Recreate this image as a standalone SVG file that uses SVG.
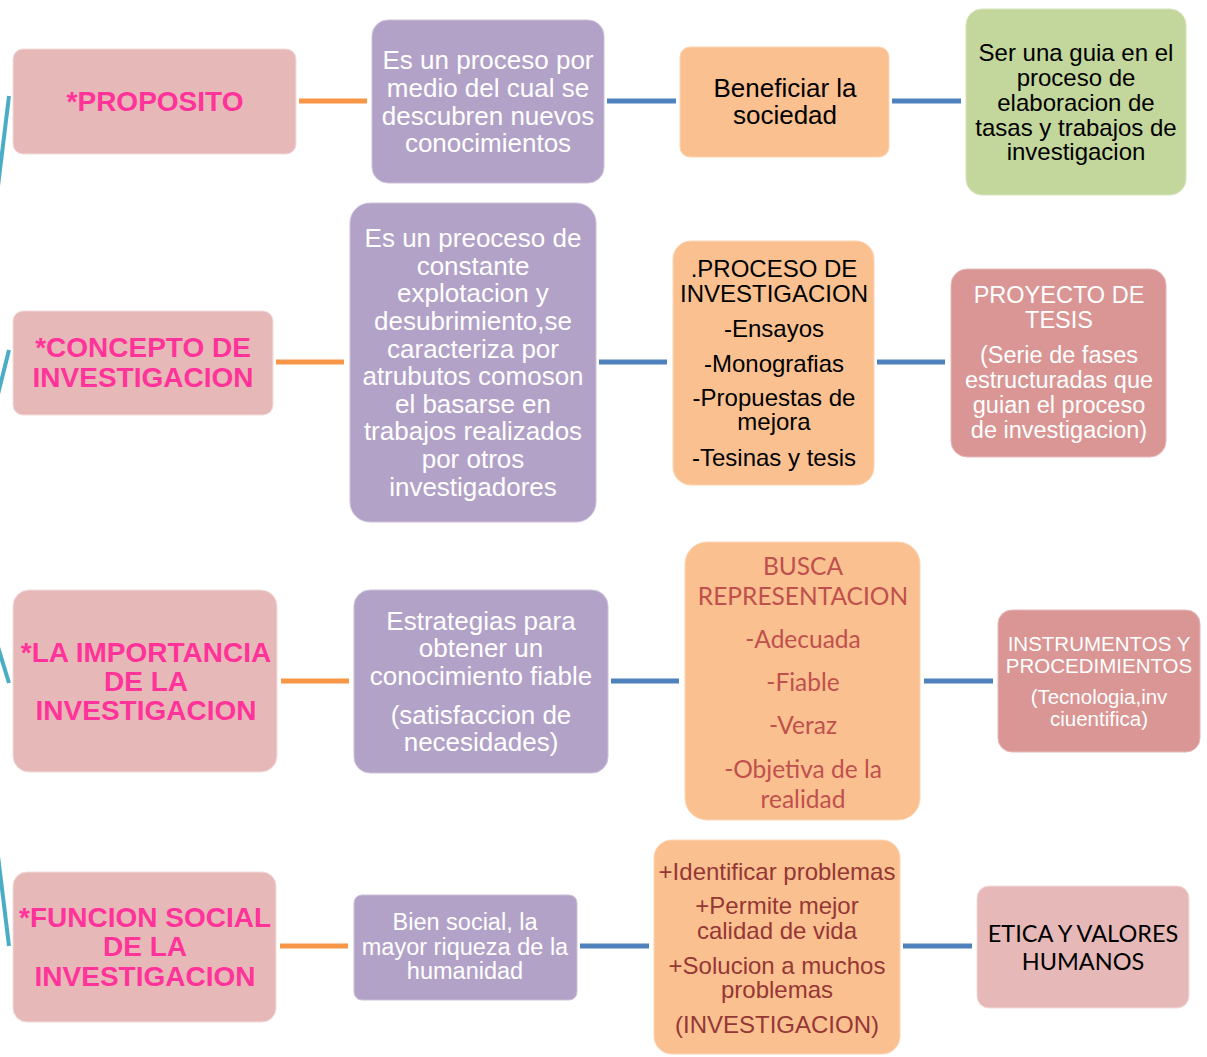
<svg xmlns="http://www.w3.org/2000/svg" width="1207" height="1057" viewBox="0 0 1207 1057">
<style>
.pk{fill:#E6B9B8;stroke:#F2DCDB;stroke-width:1}
.pu{fill:#B3A2C7;stroke:#CCC1DA;stroke-width:1}
.or{fill:#FAC090;stroke:#FCD5B5;stroke-width:1}
.gr{fill:#C3D69B;stroke:#D7E4BD;stroke-width:1}
.rd{fill:#D99694;stroke:#E6B9B8;stroke-width:1}
text{font-family:"Liberation Sans",Arial,sans-serif;text-anchor:middle;dominant-baseline:central}
.t{font-weight:bold;font-size:28px;fill:#FF3399}
.w{fill:#FFFFFF}
.k{fill:#000000}
.c{font-family:Lato,"Open Sans","Liberation Sans",sans-serif}
.oc{stroke:#F79646;stroke-width:5;fill:none}
.bc{stroke:#4F81BD;stroke-width:5;fill:none}
.tc{stroke:#4BACC6;stroke-width:4;fill:none}
</style>
<rect width="1207" height="1057" fill="#FFFFFF"/>
<g id="connectors">
<line class="tc" x1="9" y1="96" x2="-2" y2="186"/>
<line class="tc" x1="9" y1="350" x2="-2" y2="394"/>
<line class="tc" x1="-2" y1="647" x2="9" y2="683"/>
<line class="tc" x1="-2" y1="856" x2="9" y2="946"/>
<line class="oc" x1="299" y1="101" x2="367" y2="101"/>
<line class="bc" x1="607" y1="101" x2="676" y2="101"/>
<line class="bc" x1="892" y1="101" x2="961" y2="101"/>
<line class="oc" x1="276" y1="362" x2="344" y2="362"/>
<line class="bc" x1="599" y1="362" x2="667" y2="362"/>
<line class="bc" x1="877" y1="362" x2="945" y2="362"/>
<line class="oc" x1="281" y1="681" x2="349" y2="681"/>
<line class="bc" x1="611" y1="681" x2="679" y2="681"/>
<line class="bc" x1="924" y1="681" x2="993" y2="681"/>
<line class="oc" x1="280" y1="946" x2="348" y2="946"/>
<line class="bc" x1="580" y1="946" x2="649" y2="946"/>
<line class="bc" x1="903" y1="946" x2="972" y2="946"/>
</g>
<g id="n-proposito">
<rect class="pk" x="13" y="49" width="283" height="105" rx="10"/>
<text class="t" x="155" y="101">*PROPOSITO</text>
</g>
<g id="n-proceso-medio" font-size="26">
<rect class="pu" x="372" y="20" width="232" height="163" rx="16"/>
<text class="w" x="488" y="60">Es un proceso por</text>
<text class="w" x="488" y="88">medio del cual se</text>
<text class="w" x="488" y="116">descubren nuevos</text>
<text class="w" x="488" y="143">conocimientos</text>
</g>
<g id="n-beneficiar" font-size="26">
<rect class="or" x="680" y="47" width="209" height="110" rx="10"/>
<text class="k" x="785" y="88">Beneficiar la</text>
<text class="k" x="785" y="115">sociedad</text>
</g>
<g id="n-guia" font-size="24">
<rect class="gr" x="966" y="9" width="220" height="186" rx="16"/>
<text class="k" x="1076" y="52">Ser una guia en el</text>
<text class="k" x="1076" y="77">proceso de</text>
<text class="k" x="1076" y="102">elaboracion de</text>
<text class="k" x="1076" y="127">tasas y trabajos de</text>
<text class="k" x="1076" y="151">investigacion</text>
</g>
<g id="n-concepto">
<rect class="pk" x="13" y="311" width="260" height="104" rx="10"/>
<text class="t" x="143" y="347">*CONCEPTO DE</text>
<text class="t" x="143" y="377">INVESTIGACION</text>
</g>
<g id="n-preoceso" font-size="26">
<rect class="pu" x="350" y="203" width="246" height="319" rx="20"/>
<text class="w" x="473" y="238">Es un preoceso de</text>
<text class="w" x="473" y="266">constante</text>
<text class="w" x="473" y="293">explotacion y</text>
<text class="w" x="473" y="321">desubrimiento,se</text>
<text class="w" x="473" y="349">caracteriza por</text>
<text class="w" x="473" y="376">atrubutos comoson</text>
<text class="w" x="473" y="404">el basarse en</text>
<text class="w" x="473" y="431">trabajos realizados</text>
<text class="w" x="473" y="459">por otros</text>
<text class="w" x="473" y="487">investigadores</text>
</g>
<g id="n-proceso-inv" font-size="24">
<rect class="or" x="673" y="241" width="201" height="244" rx="18"/>
<text class="k" x="774" y="268">.PROCESO DE</text>
<text class="k" x="774" y="293">INVESTIGACION</text>
<text class="k" x="774" y="328">-Ensayos</text>
<text class="k" x="774" y="363">-Monografias</text>
<text class="k" x="774" y="397">-Propuestas de</text>
<text class="k" x="774" y="421">mejora</text>
<text class="k" x="774" y="457">-Tesinas y tesis</text>
</g>
<g id="n-proyecto" font-size="23.5">
<rect class="rd" x="951" y="269" width="215" height="188" rx="16"/>
<text class="w" x="1059" y="295">PROYECTO DE</text>
<text class="w" x="1059" y="320">TESIS</text>
<text class="w" x="1059" y="355">(Serie de fases</text>
<text class="w" x="1059" y="380">estructuradas que</text>
<text class="w" x="1059" y="405">guian el proceso</text>
<text class="w" x="1059" y="430">de investigacion)</text>
</g>
<g id="n-importancia">
<rect class="pk" x="13" y="590" width="264" height="182" rx="16"/>
<text class="t" x="146" y="652">*LA IMPORTANCIA</text>
<text class="t" x="146" y="681">DE LA</text>
<text class="t" x="146" y="710">INVESTIGACION</text>
</g>
<g id="n-estrategias" font-size="26">
<rect class="pu" x="354" y="590" width="254" height="183" rx="16"/>
<text class="w" x="481" y="621">Estrategias para</text>
<text class="w" x="481" y="648">obtener un</text>
<text class="w" x="481" y="676">conocimiento fiable</text>
<text class="w" x="481" y="715">(satisfaccion de</text>
<text class="w" x="481" y="742">necesidades)</text>
</g>
<g id="n-busca" font-size="24.5" fill="#C0504D">
<rect class="or" x="685" y="542" width="235" height="278" rx="22"/>
<text class="c" x="803" y="565">BUSCA</text>
<text class="c" x="803" y="595">REPRESENTACION</text>
<text class="c" x="803" y="638">-Adecuada</text>
<text class="c" x="803" y="681">-Fiable</text>
<text class="c" x="803" y="724">-Veraz</text>
<text class="c" x="803" y="768">-Objetiva de la</text>
<text class="c" x="803" y="798">realidad</text>
</g>
<g id="n-instrumentos">
<rect class="rd" x="998" y="610" width="202" height="142" rx="14"/>
<text class="w" x="1099" y="643" font-size="20.5">INSTRUMENTOS Y</text>
<text class="w" x="1099" y="665" font-size="20.5">PROCEDIMIENTOS</text>
<text class="w" x="1099" y="696" font-size="20.5">(Tecnologia,inv</text>
<text class="w" x="1099" y="718" font-size="20.5">ciuentifica)</text>
</g>
<g id="n-funcion">
<rect class="pk" x="13" y="872" width="263" height="150" rx="14"/>
<text class="t" x="145" y="917">*FUNCION SOCIAL</text>
<text class="t" x="145" y="946">DE LA</text>
<text class="t" x="145" y="976">INVESTIGACION</text>
</g>
<g id="n-bien" font-size="23.5">
<rect class="pu" x="354" y="895" width="223" height="105" rx="8"/>
<text class="w" x="465" y="922">Bien social, la</text>
<text class="w" x="465" y="947">mayor riqueza de la</text>
<text class="w" x="465" y="971">humanidad</text>
</g>
<g id="n-identificar" font-size="24" fill="#953735">
<rect class="or" x="654" y="840" width="246" height="214" rx="18"/>
<text x="777" y="871">+Identificar problemas</text>
<text x="777" y="905">+Permite mejor</text>
<text x="777" y="930">calidad de vida</text>
<text x="777" y="965">+Solucion a muchos</text>
<text x="777" y="989">problemas</text>
<text x="777" y="1024">(INVESTIGACION)</text>
</g>
<g id="n-etica" font-size="23.5">
<rect class="pk" x="977" y="886" width="212" height="122" rx="12"/>
<text class="c k" x="1083" y="933">ETICA Y VALORES</text>
<text class="c k" x="1083" y="961">HUMANOS</text>
</g>
</svg>
